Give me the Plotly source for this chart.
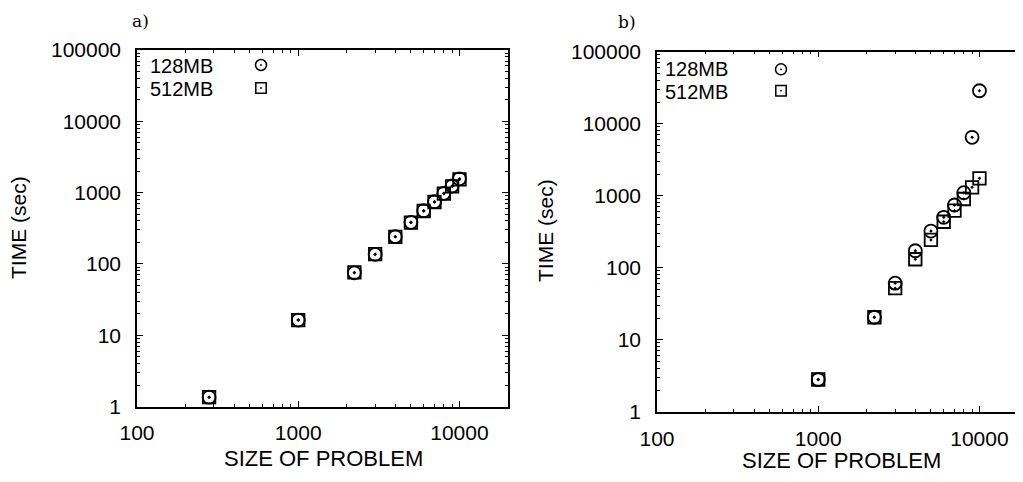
import math
import plotly.graph_objects as go

# page is 1023x482; the browser adds an 8px body margin, so the figure is 16px smaller
OFF = 8
W, H = 1023 - 2 * OFF, 482 - 2 * OFF

# ---------------- data ----------------
size_a = [280, 1000, 2230, 3000, 4000, 5000, 6000, 7000, 8000, 9000, 10000]
time_a_128 = [1.35, 16.3, 75, 136, 241, 383, 557, 745, 977, 1238, 1560]
time_a_512 = [1.35, 16.3, 76, 137, 240, 380, 552, 738, 965, 1225, 1530]

size_b = [1000, 2230, 3000, 4000, 5000, 6000, 7000, 8000, 9000, 10000]
time_b_128 = [2.8, 20.5, 61, 172, 323, 501, 743, 1100, 6470, 28700]
time_b_512 = [2.8, 20.5, 52, 131, 243, 435, 619, 900, 1309, 1744]

x_ticks = [100, 1000, 10000]
x_tick_labels = ["100", "1000", "10000"]
y_ticks = [1, 10, 100, 1000, 10000, 100000]
y_tick_labels = ["1", "10", "100", "1000", "10000", "100000"]
series_names = ["128MB", "512MB"]
x_title = "SIZE OF PROBLEM"
y_title = "TIME (sec)"
panel_labels = ["a)", "b)"]

FONT = "Liberation Sans, Arial, sans-serif"
SERIF = "DejaVu Serif, Liberation Serif, serif"


def px(x):
    return (x - OFF) / W


def py(y):
    return 1 - (y - OFF) / H


x_minor = [m * 10 ** e for e in range(2, 5) for m in range(2, 10)]
y_minor = [m * 10 ** e for e in range(0, 5) for m in range(2, 10)]

fig = go.Figure()

mk_c = dict(symbol="circle-open-dot", size=13, color="black", line=dict(color="black", width=1.8))
mk_s = dict(symbol="square-open-dot", size=12.5, color="black", line=dict(color="black", width=1.8))

fig.add_trace(go.Scatter(x=size_a, y=time_a_512, mode="markers", marker=mk_s,
                         name=series_names[1], xaxis="x", yaxis="y"))
fig.add_trace(go.Scatter(x=size_a, y=time_a_128, mode="markers", marker=mk_c,
                         name=series_names[0], xaxis="x", yaxis="y"))
fig.add_trace(go.Scatter(x=size_b, y=time_b_512, mode="markers", marker=mk_s,
                         name=series_names[1], xaxis="x2", yaxis="y2"))
fig.add_trace(go.Scatter(x=size_b, y=time_b_128, mode="markers", marker=mk_c,
                         name=series_names[0], xaxis="x2", yaxis="y2"))


def xaxis_cfg(dom, rng, anchor):
    return dict(domain=dom, type="log", range=rng, anchor=anchor, automargin=False,
                tickvals=x_ticks, ticktext=x_tick_labels,
                ticks="inside", ticklen=6, tickwidth=1.2, tickcolor="black",
                showline=True, linecolor="black", linewidth=1.5, mirror="ticks",
                showgrid=False, zeroline=False, ticklabelstandoff=7,
                tickfont=dict(family=FONT, size=21, color="black"),
                minor=dict(tickvals=x_minor, ticks="inside", ticklen=3,
                           tickcolor="black", tickwidth=1, showgrid=False))


def yaxis_cfg(dom, anchor, mirror="ticks"):
    return dict(domain=dom, type="log", range=[0, 5], anchor=anchor, automargin=False,
                tickvals=y_ticks, ticktext=y_tick_labels,
                ticks="inside", ticklen=6, tickwidth=1.2, tickcolor="black",
                showline=True, linecolor="black", linewidth=1.5, mirror=mirror,
                showgrid=False, zeroline=False, ticklabelstandoff=10,
                tickfont=dict(family=FONT, size=21, color="black"),
                minor=dict(tickvals=y_minor, ticks="inside", ticklen=3,
                           tickcolor="black", tickwidth=1, showgrid=False))


a_left, a_right, a_top, a_bot = 137, 508, 50, 406.5
b_left, b_top, b_bot = 657, 51.7, 411.7
b_right = OFF + W
dec_a = (a_right - a_left) / (math.log10(20000) - 2)

fig.update_layout(
    template="none",
    width=W, height=H, autosize=False,
    margin=dict(l=0, r=0, t=0, b=0, pad=0),
    paper_bgcolor="white", plot_bgcolor="white",
    showlegend=False,
    xaxis=xaxis_cfg([px(a_left), px(a_right)], [2, math.log10(20000)], "y"),
    yaxis=yaxis_cfg([py(a_bot), py(a_top)], "x"),
    xaxis2=xaxis_cfg([px(b_left), 1.0], [2, 2 + (b_right - b_left) / dec_a], "y2"),
    yaxis2=yaxis_cfg([py(b_bot), py(b_top)], "x2", mirror=False),
)

ann = []
shapes = []


def text(x, y, s, size=21, family=FONT, angle=0, xanchor="center"):
    ann.append(dict(x=px(x), y=py(y), xref="paper", yref="paper", text=s,
                    showarrow=False, textangle=angle, xanchor=xanchor, yanchor="middle",
                    borderpad=0,
                    font=dict(family=family, size=size, color="black")))


def circle_key(cx, cy, r=5.5):
    shapes.append(dict(type="circle", xref="paper", yref="paper",
                       x0=px(cx - r), x1=px(cx + r), y0=py(cy + r), y1=py(cy - r),
                       line=dict(color="black", width=1.5)))
    shapes.append(dict(type="circle", xref="paper", yref="paper",
                       x0=px(cx - 0.9), x1=px(cx + 0.9), y0=py(cy + 0.9), y1=py(cy - 0.9),
                       fillcolor="black", line=dict(color="black", width=0)))


def square_key(cx, cy, r=5.2):
    shapes.append(dict(type="rect", xref="paper", yref="paper",
                       x0=px(cx - r), x1=px(cx + r), y0=py(cy + r), y1=py(cy - r),
                       line=dict(color="black", width=1.5)))
    shapes.append(dict(type="circle", xref="paper", yref="paper",
                       x0=px(cx - 0.9), x1=px(cx + 0.9), y0=py(cy + 0.9), y1=py(cy - 0.9),
                       fillcolor="black", line=dict(color="black", width=0)))


# panel labels (kept inside the figure, which starts 8px below the page top)
text(140, 21, panel_labels[0], size=17, family=SERIF)
text(627, 22, panel_labels[1], size=17, family=SERIF)

# axis titles
text(323, 458, x_title, size=22)
text(841, 460, x_title, size=22)
text(18, 228, y_title, size=21, angle=-90)
text(545, 231, y_title, size=21, angle=-90)

# legend keys
text(149, 65.5, series_names[0], size=20, xanchor="left")
text(149, 89, series_names[1], size=20, xanchor="left")
circle_key(261, 65)
square_key(261, 88)
text(664, 68.5, series_names[0], size=20, xanchor="left")
text(664, 92, series_names[1], size=20, xanchor="left")
circle_key(781, 69.3)
square_key(781, 90.7)

fig.update_layout(annotations=ann, shapes=shapes)

fig.write_html("out.html")
